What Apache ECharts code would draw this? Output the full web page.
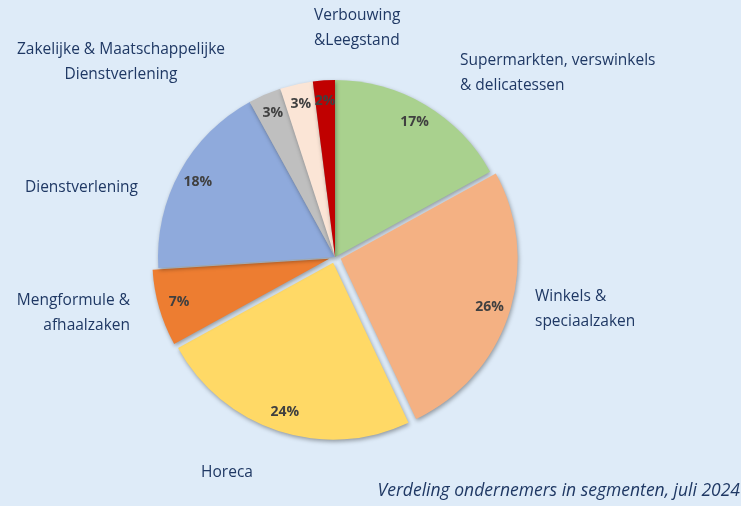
<!DOCTYPE html>
<html>
<head>
<meta charset="utf-8">
<script src="https://cdn.jsdelivr.net/npm/echarts@6/dist/echarts.min.js"></script>
<style>
  html, body { margin: 0; padding: 0; background: #DEEBF8; }
  #main { width: 741px; height: 506px; }
</style>
</head>
<body>
<div id="main"></div>
<script>
// segmenten, met de klok mee vanaf 12 uur
var segments = [
  'Supermarkten, verswinkels\n& delicatessen',
  'Winkels &\nspeciaalzaken',
  'Horeca',
  'Mengformule &\nafhaalzaken',
  'Dienstverlening',
  'Zakelijke & Maatschappelijke\nDienstverlening',
  '',
  'Verbouwing\n&Leegstand'
];
var shares = [17, 26, 24, 7, 18, 3, 3, 2];
var colors = ['#A9D18E', '#F4B183', '#FFD966', '#ED7D31', '#8FAADC', '#BFBFBF', '#FBE5D6', '#C00000'];
var exploded = [false, true, true, true, false, false, false, false];

// plek van de namen (x, y, uitlijning)
var namePos = [
  [460, 73, 'left'],
  [535, 309, 'left'],
  [227, 473, 'center'],
  [130, 313, 'right'],
  [138, 188, 'right'],
  [121, 62, 'center'],
  null,
  [314, 28, 'left']
];

var myChart = echarts.init(document.getElementById('main'));

var pieData = segments.map(function (name, i) {
  return {
    name: name,
    value: shares[i],
    selected: exploded[i],
    itemStyle: { color: colors[i] }
  };
});

var nameData = segments.map(function (name, i) {
  return { name: name, value: shares[i], label: { show: namePos[i] !== null } };
});

var option = {
  backgroundColor: '#DEEBF8',
  animation: false,
  graphic: [{
    type: 'text',
    right: 1,
    top: 482,
    style: {
      text: 'Verdeling ondernemers in segmenten, juli 2024',
      fill: '#1F3864',
      font: 'italic 17.5px "Open Sans"'
    }
  }],
  series: [
    {
      type: 'pie',
      center: [335, 257],
      radius: [0, 177],
      startAngle: 90,
      clockwise: true,
      selectedMode: 'multiple',
      selectedOffset: 6,
      silent: true,
      data: pieData,
      itemStyle: {
        borderWidth: 0,
        shadowBlur: 4,
        shadowColor: 'rgba(0,0,0,0.35)',
        shadowOffsetX: 1,
        shadowOffsetY: 2
      },
      emphasis: { disabled: true },
      label: { show: false },
      labelLine: { show: false }
    },
    {
      // onzichtbare ring voor de percentages
      type: 'pie',
      center: [335, 257],
      radius: [130, 177],
      startAngle: 90,
      clockwise: true,
      selectedMode: 'multiple',
      selectedOffset: 6,
      silent: true,
      data: pieData.map(function (d) { return { name: d.name, value: d.value, selected: d.selected }; }),
      itemStyle: { color: 'rgba(0,0,0,0)' },
      emphasis: { disabled: true },
      label: {
        position: 'inside',
        formatter: '{c}%',
        color: '#404040',
        fontFamily: 'Open Sans',
        fontWeight: 'bold',
        fontSize: 14
      },
      labelLine: { show: false }
    },
    {
      // onzichtbare laag voor de namen
      type: 'pie',
      center: [335, 257],
      radius: [0, 177],
      startAngle: 90,
      clockwise: true,
      silent: true,
      data: nameData,
      itemStyle: { color: 'rgba(0,0,0,0)' },
      emphasis: { disabled: true },
      label: {
        position: 'outside',
        formatter: '{b}',
        color: '#1F3864',
        fontFamily: 'Open Sans',
        fontSize: 15.5,
        lineHeight: 25,
        overflow: 'none'
      },
      labelLine: { show: false },
      labelLayout: function (params) {
        var p = namePos[params.dataIndex];
        if (!p) return {};
        return { x: p[0], y: p[1], align: p[2], verticalAlign: 'middle', width: 400 };
      }
    }
  ]
};

myChart.setOption(option);
</script>
</body>
</html>
